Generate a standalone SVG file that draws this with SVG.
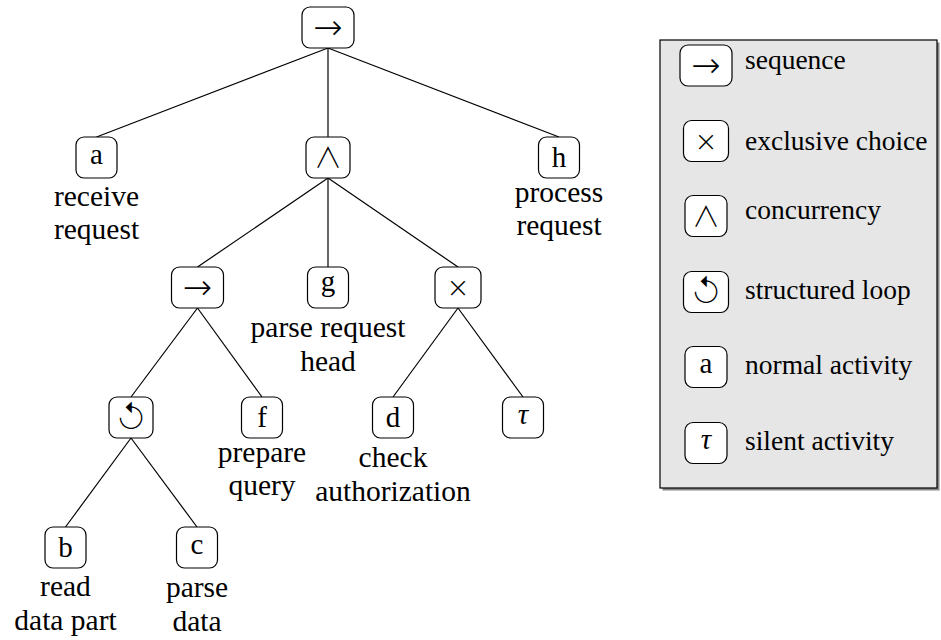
<svg xmlns="http://www.w3.org/2000/svg" width="941" height="640" viewBox="0 0 941 640">
<style>
.box{fill:#fff;stroke:#000;stroke-width:1.2}
.edge{stroke:#000;stroke-width:1.2;fill:none}
.lbl{font-family:"Liberation Serif","Times New Roman","DejaVu Serif",serif;font-size:29.5px;text-anchor:middle;fill:#000}
.act{font-family:"Liberation Serif","Times New Roman","DejaVu Serif",serif;font-size:29px;text-anchor:middle;fill:#000}
.tau{font-family:"Liberation Serif","Times New Roman","DejaVu Serif",serif;font-size:29px;font-style:italic;text-anchor:middle;fill:#000}
.sym{font-family:"DejaVu Sans",sans-serif;font-weight:200;text-anchor:middle;fill:#000}
.cjk{font-family:"Noto Sans CJK JP","DejaVu Sans",sans-serif;font-weight:200;text-anchor:middle;fill:#000}
.lp{font-family:"Inter","Noto Sans CJK JP","DejaVu Sans",sans-serif;font-weight:200;text-anchor:middle;fill:#000;font-size:31px}
.arr{font-size:35px}
.op{font-size:28px}
.leg{font-family:"Liberation Serif","Times New Roman","DejaVu Serif",serif;font-size:27.5px;fill:#000}
</style>
<rect width="941" height="640" fill="#fff"/>
<g id="connectors">
<line class="edge" x1="328" y1="48" x2="96.5" y2="137"/>
<line class="edge" x1="328" y1="48" x2="328" y2="137"/>
<line class="edge" x1="328" y1="48" x2="559" y2="137"/>
<line class="edge" x1="328" y1="178" x2="197.5" y2="267"/>
<line class="edge" x1="328" y1="178" x2="328" y2="267"/>
<line class="edge" x1="328" y1="178" x2="458" y2="267"/>
<line class="edge" x1="197.5" y1="308" x2="131" y2="397"/>
<line class="edge" x1="197.5" y1="308" x2="262" y2="397"/>
<line class="edge" x1="458" y1="308" x2="393" y2="397"/>
<line class="edge" x1="458" y1="308" x2="523" y2="397"/>
<line class="edge" x1="131" y1="438" x2="65.5" y2="527"/>
<line class="edge" x1="131" y1="438" x2="197" y2="527"/>
</g>
<g id="root">
<rect class="box" x="302" y="7" width="52" height="41" rx="8"/>
<text class="sym arr" x="328" y="38.5">→</text>
</g>
<g id="node-a">
<rect class="box" x="76" y="137" width="41" height="41" rx="8"/>
<text class="act" x="96.5" y="163.5">a</text>
<text class="lbl" x="96.5" y="206">receive</text>
<text class="lbl" x="96.5" y="239">request</text>
</g>
<g id="node-and">
<rect class="box" x="306" y="137" width="44" height="41" rx="8"/>
<text class="cjk op" x="328" y="168">∧</text>
</g>
<g id="node-h">
<rect class="box" x="538.5" y="137" width="41" height="41" rx="8"/>
<text class="act" x="559" y="167">h</text>
<text class="lbl" x="559" y="202">process</text>
<text class="lbl" x="559" y="235">request</text>
</g>
<g id="node-seq2">
<rect class="box" x="171.5" y="267" width="52" height="41" rx="8"/>
<text class="sym arr" x="197.5" y="298.5">→</text>
</g>
<g id="node-g">
<rect class="box" x="307.5" y="267" width="41" height="41" rx="8"/>
<text class="act" x="328" y="290.5">g</text>
<text class="lbl" x="328" y="337">parse request</text>
<text class="lbl" x="328" y="371">head</text>
</g>
<g id="node-xor">
<rect class="box" x="435" y="267" width="46" height="41" rx="8"/>
<text class="sym op" x="458" y="297">×</text>
</g>
<g id="node-loop">
<rect class="box" x="109" y="397" width="44" height="41" rx="8"/>
<text class="lp" x="131" y="428.5">↺</text>
</g>
<g id="node-f">
<rect class="box" x="241.5" y="397" width="41" height="41" rx="8"/>
<text class="act" x="262" y="427">f</text>
<text class="lbl" x="262" y="462">prepare</text>
<text class="lbl" x="262" y="495">query</text>
</g>
<g id="node-d">
<rect class="box" x="372.5" y="397" width="41" height="41" rx="8"/>
<text class="act" x="393" y="427">d</text>
<text class="lbl" x="393" y="467">check</text>
<text class="lbl" x="393" y="501">authorization</text>
</g>
<g id="node-tau">
<rect class="box" x="502.5" y="397" width="41" height="41" rx="8"/>
<text class="tau" x="523" y="424">τ</text>
</g>
<g id="node-b">
<rect class="box" x="45" y="527" width="41" height="41" rx="8"/>
<text class="act" x="65.5" y="557">b</text>
<text class="lbl" x="65.5" y="596">read</text>
<text class="lbl" x="65.5" y="630">data part</text>
</g>
<g id="node-c">
<rect class="box" x="176.5" y="527" width="41" height="41" rx="8"/>
<text class="act" x="197" y="554">c</text>
<text class="lbl" x="197" y="597">parse</text>
<text class="lbl" x="197" y="631">data</text>
</g>
<g id="legend">
<rect x="662.5" y="42.5" width="277" height="448" fill="#888"/>
<rect x="660" y="40" width="277" height="448" fill="#e6e6e6" stroke="#000" stroke-width="1.2"/>
<rect class="box" x="680" y="45" width="52" height="41" rx="8"/>
<text class="sym arr" x="706" y="76.5">→</text>
<text class="leg" x="745" y="69">sequence</text>
<rect class="box" x="683.5" y="120.5" width="45" height="41" rx="8"/>
<text class="sym op" x="706" y="150.5">×</text>
<text class="leg" x="745" y="150">exclusive choice</text>
<rect class="box" x="685" y="195.5" width="42" height="41" rx="8"/>
<text class="cjk op" x="706" y="226.5">∧</text>
<text class="leg" x="745" y="219">concurrency</text>
<rect class="box" x="683.5" y="271.5" width="45" height="41" rx="8"/>
<text class="lp" x="706" y="303">↺</text>
<text class="leg" x="745" y="298.5">structured loop</text>
<rect class="box" x="685" y="346.5" width="42" height="41" rx="8"/>
<text class="act" x="706" y="373">a</text>
<text class="leg" x="745" y="373.5">normal activity</text>
<rect class="box" x="685" y="422.5" width="42" height="41" rx="8"/>
<text class="tau" x="706" y="449">τ</text>
<text class="leg" x="745" y="449.5">silent activity</text>
</g>
</svg>
